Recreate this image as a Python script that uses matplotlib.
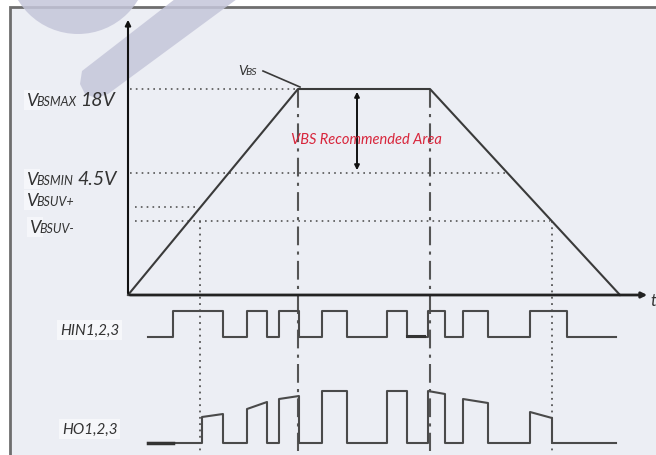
import matplotlib
matplotlib.use('Agg')
import matplotlib.pyplot as plt
from matplotlib.patches import Rectangle, Circle, Polygon

plt.rcParams['font.family'] = ['Lato', 'DejaVu Sans']

# schematic diagram units (y grows downward)
vbs_t = [128, 298, 430, 620]
vbs_y = [296, 90, 90, 296]

level_sub = ['BSMAX', 'BSMIN', 'BSUV+', 'BSUV-']
level_val = ['18V', '4.5V', '', '']
level_y = [90, 174, 208, 222]
level_end = [298, 507, 198, 550]

guide_x = [200, 298, 430, 552]
guide_top = [222, 90, 90, 222]
guide_style = ['dot', 'dashdot', 'dashdot', 'dot']

hin_t = [148, 173, 223, 247, 267, 279, 299, 322, 347, 387, 407, 428, 445, 463, 488, 530, 567, 616]
hin_state = [0, 1, 0, 1, 0, 1, 0, 1, 0, 1, 0, 1, 0, 1, 0, 1, 0, 0]
hin_low, hin_high = 338, 312

ho_rise = [202, 247, 279, 322, 387, 428, 463, 530]
ho_fall = [223, 267, 299, 347, 407, 445, 488, 552]
ho_top_start = [418, 410, 400, 392, 392, 392, 400, 413]
ho_top_end = [415, 403, 397, 392, 392, 395, 404, 419]
ho_low = 444
ho_start, ho_end = 148, 616

fig = plt.figure(figsize=(6.56, 4.56), dpi=100)
ax = fig.add_axes([0, 0, 1, 1])
ax.set_xlim(0, 656)
ax.set_ylim(456, 0)
ax.axis('off')

# frame and background
ax.add_patch(Rectangle((10, 8), 700, 500, facecolor='#eceef4', edgecolor='#6e6e6e', lw=2, zorder=0))
# watermark
wm = '#c5c6da'
ax.add_patch(Circle((78, -35), 70, facecolor=wm, edgecolor='none', alpha=0.85, zorder=1))
ax.add_patch(Polygon([(175, 0), (237, 0), (108, 95), (96, 99), (85, 95), (80, 85), (82, 72)],
                     closed=True, facecolor=wm, edgecolor='none', alpha=0.85, zorder=1))

line_col = '#3a3a3a'
sig_col = '#4a4a4a'
dot_ls = (0, (1, 2.5))
dashdot_ls = (0, (9, 3, 1.5, 3))

# axes
ax.annotate('', xy=(128, 18), xytext=(128, 297),
            arrowprops=dict(arrowstyle='-|>', color='#111111', lw=1.5, mutation_scale=8), zorder=5)
ax.annotate('', xy=(650, 296), xytext=(127, 296),
            arrowprops=dict(arrowstyle='-|>', color='#222222', lw=2, mutation_scale=8), zorder=5)
ax.text(650, 301, 't', fontsize=12, style='italic', color='#333333', ha='left', va='center')

# VBS curve
ax.plot(vbs_t, vbs_y, color=line_col, lw=1.5, zorder=4)

# level lines and labels
for sub, val, y, xe in zip(level_sub, level_val, level_y, level_end):
    x0 = 130 if val else 135
    ax.plot([x0, xe], [y, y], color='#555555', lw=1.2, ls=dot_ls, zorder=3)

label_base = [106, 185, 206, 233]
label_x = [26, 26, 26, 29]
label_val_x = [80, 77, 0, 0]
for sub, val, yb, lx, vx in zip(level_sub, level_val, label_base, label_x, label_val_x):
    bb = dict(facecolor='#f5f6fa', edgecolor='none', pad=1.5)
    ax.text(lx, yb, 'V', fontsize=13, style='italic', color='#333333', va='baseline', ha='left',
            bbox=bb, zorder=3)
    ax.text(lx + 10.5, yb, sub, fontsize=9, style='italic', color='#333333', va='baseline', ha='left',
            zorder=4)
    if val:
        ax.text(vx, yb, val, fontsize=14, style='italic', color='#333333', va='baseline', ha='left',
                zorder=4)

# vertical guides
for x, yt, st in zip(guide_x, guide_top, guide_style):
    ls = dot_ls if st == 'dot' else dashdot_ls
    ax.plot([x, x], [yt, 452], color='#555555', lw=1.3 if st == 'dot' else 1.5, ls=ls, zorder=3)

# VBS label with leader
ax.text(238, 75, 'V', fontsize=10, style='italic', color='#333333', va='baseline')
ax.text(245.5, 75, 'BS', fontsize=7.5, style='italic', color='#333333', va='baseline')
ax.plot([263, 300], [72, 88], color=line_col, lw=1.2)

# recommended area arrow and text
ax.annotate('', xy=(357, 90), xytext=(357, 174),
            arrowprops=dict(arrowstyle='<|-|>', color='#111111', lw=1.4, mutation_scale=7), zorder=5)
ax.text(366, 140, 'VBS Recommended Area', fontsize=10.5, style='italic', color='#d8263c',
        ha='center', va='center', zorder=6)

# HIN signal
hin_y = [hin_low if s == 0 else hin_high for s in hin_state]
ax.step(hin_t, hin_y, where='post', color=sig_col, lw=1.5, zorder=4)
ax.plot([407, 424], [hin_low - 1, hin_low - 1], color='#333333', lw=2.2, zorder=4)
ax.text(60, 331, 'HIN1,2,3', fontsize=11, style='italic', color='#333333', va='center', ha='left',
        bbox=dict(facecolor='#f6f7fa', edgecolor='none', pad=2))

# HO signal
ho_x = [ho_start]
ho_y = [ho_low]
for r, f, ts, te in zip(ho_rise, ho_fall, ho_top_start, ho_top_end):
    ho_x += [r, r, f, f]
    ho_y += [ho_low, ts, te, ho_low]
ho_x.append(ho_end)
ho_y.append(ho_low)
ax.plot(ho_x, ho_y, color=sig_col, lw=1.5, zorder=4)
ax.plot([148, 173], [ho_low, ho_low], color='#333333', lw=2.5, zorder=4)
ax.text(62, 430, 'HO1,2,3', fontsize=11, style='italic', color='#333333', va='center', ha='left',
        bbox=dict(facecolor='#f6f7fa', edgecolor='none', pad=2))

fig.savefig('out.png', dpi=100, facecolor='white')
